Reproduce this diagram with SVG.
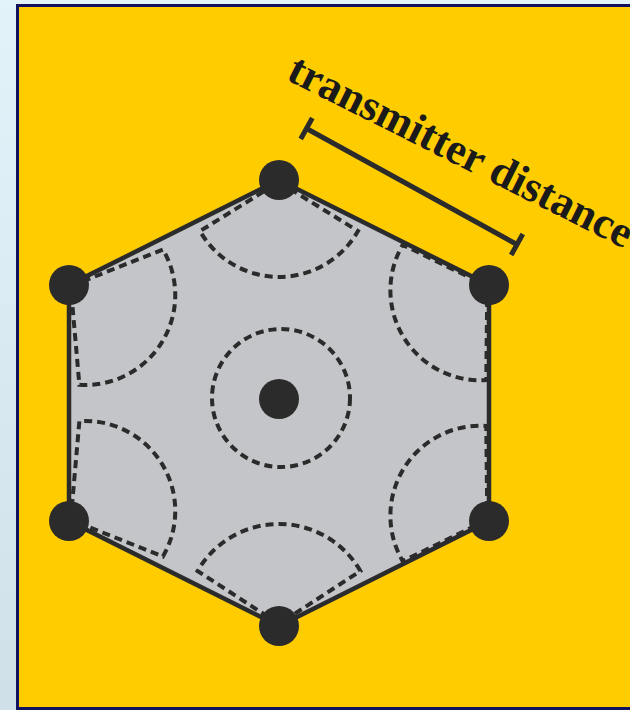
<svg xmlns="http://www.w3.org/2000/svg" width="630" height="710" viewBox="0 0 630 710">
  <defs>
    <linearGradient id="bg" x1="0" y1="0" x2="0" y2="1">
      <stop offset="0" stop-color="#e3f3fa"/>
      <stop offset="1" stop-color="#cfe0e8"/>
    </linearGradient>
    <path id="secA" d="M 2 0 L 51.1 -79 A 91 91 0 0 1 51.1 79 Z"/>
    <path id="secB" d="M 2 0 L 61.3 -79.5 A 90 90 0 0 1 61.3 79.5 Z"/>
    <path id="secC" d="M 2 0 L 52.3 -79.5 A 90 90 0 0 1 52.3 79.5 Z"/>
    <path id="secD" d="M 2 0 L 55 -81.4 A 94 94 0 0 1 55 81.4 Z"/>
  </defs>
  <style>
    .dash { fill: none; stroke: #2b2b2b; stroke-width: 4; stroke-dasharray: 8 5; }
    .dot { fill: #2b2b2b; }
    .line { stroke: #2b2b2b; stroke-width: 5; fill: none; }
    .label { font-family: 'Liberation Serif', 'Times New Roman', serif; font-weight: bold; font-size: 44px; fill: #1a1a1a; }
  </style>
  <rect x="0" y="0" width="630" height="710" fill="url(#bg)"/>
  <rect x="17.5" y="5.5" width="640" height="703" fill="#ffcc00" stroke="#12125e" stroke-width="3"/>

  <g id="cell">
    <polygon points="279,180 489,285 489,521 279,626 69,521 69,285" fill="#c4c5c9" stroke="#2b2b2b" stroke-width="4.5" stroke-linejoin="miter"/>
  </g>

  <g id="connectors">
    <line class="line" x1="306.5" y1="128.5" x2="517" y2="244.5"/>
    <line class="line" x1="312.3" y1="118" x2="300.7" y2="139"/>
    <line class="line" x1="522.8" y1="234" x2="511.2" y2="255"/>
  </g>

  <g id="tx-center">
    <circle class="dash" cx="281" cy="398" r="69"/>
    <circle class="dot" cx="279" cy="399" r="20"/>
  </g>
  <g id="tx-top">
    <use href="#secA" class="dash" transform="translate(279,180) rotate(90)"/>
    <circle class="dot" cx="279" cy="180" r="20"/>
  </g>
  <g id="tx-upper-right">
    <use href="#secC" class="dash" transform="translate(489,285) rotate(148.3)"/>
    <circle class="dot" cx="489" cy="285" r="20"/>
  </g>
  <g id="tx-lower-right">
    <use href="#secC" class="dash" transform="translate(489,521) rotate(211.7)"/>
    <circle class="dot" cx="489" cy="521" r="20"/>
  </g>
  <g id="tx-bottom">
    <use href="#secD" class="dash" transform="translate(279,626) rotate(270)"/>
    <circle class="dot" cx="279" cy="626" r="20"/>
  </g>
  <g id="tx-lower-left">
    <use href="#secB" class="dash" transform="translate(69,521) rotate(-31.7)"/>
    <circle class="dot" cx="69" cy="521" r="20"/>
  </g>
  <g id="tx-upper-left">
    <use href="#secB" class="dash" transform="translate(69,285) rotate(31.7)"/>
    <circle class="dot" cx="69" cy="285" r="20"/>
  </g>

  <g id="label">
    <text class="label" x="0" y="0" transform="translate(285,79) rotate(26.57)">transmitter distance</text>
  </g>
</svg>
